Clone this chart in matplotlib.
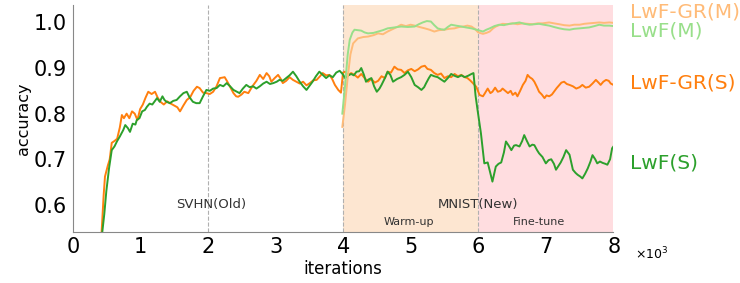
import numpy as np
import matplotlib
matplotlib.use("Agg")
import matplotlib.pyplot as plt
from matplotlib.ticker import ScalarFormatter

gr_s_x = [0.43, 0.46, 0.48, 0.52, 0.55, 0.58, 0.62, 0.66, 0.70, 0.73, 0.76, 0.80, 0.84, 0.88, 0.92, 0.96,
          1.00, 1.04, 1.08, 1.12, 1.17, 1.22, 1.26, 1.30, 1.35, 1.40, 1.44, 1.50, 1.55, 1.59, 1.64, 1.69,
          1.74, 1.79, 1.84, 1.88, 1.93, 1.98, 2.03, 2.08, 2.13, 2.18, 2.22, 2.25, 2.29, 2.33, 2.38, 2.42,
          2.45, 2.50, 2.54, 2.60, 2.64, 2.67, 2.72, 2.77, 2.82, 2.87, 2.91, 2.94, 2.99, 3.04, 3.08, 3.11,
          3.16, 3.21, 3.26, 3.31, 3.36, 3.41, 3.46, 3.51, 3.56, 3.61, 3.66, 3.70, 3.75, 3.80, 3.84, 3.88,
          3.93, 3.97, 4.00, 4.03, 4.08, 4.12, 4.17, 4.22, 4.27, 4.32, 4.37, 4.42, 4.47, 4.52, 4.57, 4.62,
          4.66, 4.71, 4.76, 4.81, 4.86, 4.91, 4.96, 5.01, 5.06, 5.11, 5.16, 5.21, 5.25, 5.30, 5.35, 5.40,
          5.45, 5.50, 5.55, 5.60, 5.65, 5.70, 5.75, 5.80, 5.84, 5.88, 5.92, 5.97, 6.02, 6.07, 6.10, 6.14,
          6.18, 6.21, 6.25, 6.29, 6.33, 6.36, 6.40, 6.44, 6.48, 6.51, 6.55, 6.58, 6.62, 6.66, 6.70, 6.73,
          6.76, 6.80, 6.83, 6.87, 6.90, 6.94, 6.98, 7.01, 7.05, 7.09, 7.12, 7.16, 7.20, 7.23, 7.27, 7.31,
          7.35, 7.40, 7.45, 7.50, 7.54, 7.59, 7.64, 7.69, 7.74, 7.78, 7.81, 7.85, 7.89, 7.93, 7.96, 8.00]
gr_s_y = [0.54, 0.62, 0.662, 0.685, 0.70, 0.736, 0.74, 0.745, 0.77, 0.797, 0.79, 0.80, 0.79, 0.805, 0.80, 0.786,
          0.81, 0.82, 0.835, 0.848, 0.843, 0.848, 0.835, 0.826, 0.82, 0.827, 0.823, 0.818, 0.814, 0.805, 0.818, 0.83,
          0.836, 0.85, 0.859, 0.856, 0.846, 0.845, 0.843, 0.848, 0.86, 0.878, 0.879, 0.88, 0.87, 0.859, 0.845, 0.838,
          0.837, 0.842, 0.848, 0.845, 0.855, 0.862, 0.872, 0.885, 0.876, 0.889, 0.882, 0.87, 0.878, 0.885, 0.876, 0.867,
          0.872, 0.88, 0.874, 0.87, 0.866, 0.87, 0.862, 0.867, 0.873, 0.874, 0.882, 0.889, 0.884, 0.885, 0.876, 0.863,
          0.852, 0.846, 0.89, 0.892, 0.884, 0.889, 0.885, 0.879, 0.887, 0.878, 0.87, 0.876, 0.868, 0.872, 0.882, 0.878,
          0.892, 0.89, 0.903, 0.897, 0.896, 0.889, 0.895, 0.898, 0.893, 0.897, 0.903, 0.905, 0.898, 0.896, 0.889, 0.885,
          0.888, 0.878, 0.882, 0.88, 0.887, 0.882, 0.885, 0.88, 0.878, 0.873, 0.867, 0.859, 0.841, 0.838, 0.845, 0.855,
          0.845, 0.848, 0.857, 0.848, 0.85, 0.855, 0.85, 0.845, 0.85, 0.841, 0.846, 0.838, 0.85, 0.863, 0.872, 0.885,
          0.88, 0.876, 0.87, 0.858, 0.848, 0.842, 0.834, 0.84, 0.838, 0.842, 0.848, 0.856, 0.863, 0.868, 0.87, 0.865,
          0.863, 0.86, 0.855, 0.858, 0.863, 0.857, 0.859, 0.866, 0.874, 0.868, 0.863, 0.87, 0.874, 0.872, 0.866, 0.863]

lwf_s_x = [0.44, 0.47, 0.50, 0.54, 0.58, 0.62, 0.66, 0.70, 0.75, 0.78, 0.82, 0.85, 0.89, 0.93, 0.95, 0.99,
           1.03, 1.07, 1.10, 1.14, 1.18, 1.22, 1.25, 1.29, 1.33, 1.36, 1.39, 1.44, 1.49, 1.54, 1.59, 1.64,
           1.69, 1.73, 1.78, 1.83, 1.88, 1.93, 1.98, 2.03, 2.08, 2.13, 2.18, 2.23, 2.28, 2.33, 2.38, 2.43,
           2.47, 2.52, 2.57, 2.62, 2.67, 2.72, 2.77, 2.82, 2.87, 2.92, 2.97, 3.02, 3.06, 3.11, 3.16, 3.21,
           3.26, 3.31, 3.36, 3.41, 3.46, 3.51, 3.55, 3.60, 3.65, 3.70, 3.75, 3.80, 3.85, 3.90, 3.95, 4.00,
           4.03, 4.08, 4.12, 4.16, 4.20, 4.24, 4.27, 4.31, 4.34, 4.38, 4.42, 4.46, 4.50, 4.54, 4.57, 4.62,
           4.66, 4.70, 4.74, 4.80, 4.86, 4.91, 4.96, 5.01, 5.06, 5.11, 5.16, 5.20, 5.23, 5.27, 5.30, 5.35,
           5.40, 5.45, 5.50, 5.55, 5.60, 5.65, 5.70, 5.75, 5.80, 5.85, 5.90, 5.93, 5.96, 5.99, 6.04, 6.09,
           6.14, 6.17, 6.21, 6.26, 6.30, 6.34, 6.38, 6.41, 6.45, 6.49, 6.53, 6.56, 6.61, 6.65, 6.68, 6.72,
           6.76, 6.80, 6.83, 6.87, 6.90, 6.95, 7.00, 7.04, 7.08, 7.12, 7.15, 7.19, 7.22, 7.26, 7.30, 7.35,
           7.40, 7.44, 7.47, 7.51, 7.54, 7.58, 7.62, 7.66, 7.69, 7.73, 7.76, 7.80, 7.84, 7.88, 7.91, 7.95,
           7.98, 8.00]
lwf_s_y = [0.54, 0.58, 0.63, 0.68, 0.72, 0.728, 0.74, 0.75, 0.764, 0.775, 0.768, 0.76, 0.778, 0.776, 0.786, 0.79,
           0.805, 0.808, 0.815, 0.822, 0.82, 0.828, 0.834, 0.826, 0.838, 0.83, 0.826, 0.823, 0.828, 0.83, 0.838, 0.845,
           0.848, 0.836, 0.826, 0.823, 0.823, 0.838, 0.852, 0.85, 0.855, 0.856, 0.863, 0.86, 0.867, 0.86, 0.852, 0.848,
           0.845, 0.855, 0.863, 0.858, 0.86, 0.855, 0.86, 0.866, 0.87, 0.865, 0.867, 0.87, 0.874, 0.872, 0.878, 0.884,
           0.892, 0.882, 0.87, 0.86, 0.852, 0.862, 0.87, 0.882, 0.892, 0.885, 0.878, 0.884, 0.88, 0.89, 0.894, 0.886,
           0.878, 0.884, 0.887, 0.884, 0.892, 0.893, 0.90, 0.885, 0.87, 0.875, 0.878, 0.86, 0.848, 0.855, 0.863, 0.878,
           0.892, 0.885, 0.87, 0.876, 0.88, 0.885, 0.892, 0.88, 0.863, 0.858, 0.852, 0.858, 0.867, 0.878, 0.885, 0.882,
           0.88, 0.875, 0.87, 0.878, 0.887, 0.883, 0.88, 0.884, 0.88, 0.883, 0.887, 0.889, 0.84, 0.808, 0.757, 0.691,
           0.693, 0.675, 0.651, 0.684, 0.69, 0.693, 0.715, 0.739, 0.73, 0.72, 0.73, 0.731, 0.728, 0.74, 0.753, 0.74,
           0.728, 0.732, 0.731, 0.72, 0.713, 0.705, 0.691, 0.698, 0.70, 0.69, 0.677, 0.686, 0.693, 0.705, 0.72, 0.71,
           0.677, 0.67, 0.666, 0.662, 0.658, 0.668, 0.68, 0.695, 0.709, 0.70, 0.691, 0.695, 0.692, 0.69, 0.688, 0.70,
           0.724, 0.728]

gr_m_x = [3.99, 4.03, 4.07, 4.11, 4.15, 4.22, 4.30, 4.37, 4.45, 4.52, 4.59, 4.66, 4.73, 4.80, 4.86, 4.93,
          5.00, 5.06, 5.13, 5.21, 5.28, 5.35, 5.42, 5.50, 5.57, 5.65, 5.72, 5.78, 5.84, 5.90, 5.95, 6.00,
          6.07, 6.12, 6.17, 6.22, 6.26, 6.31, 6.36, 6.44, 6.51, 6.58, 6.66, 6.73, 6.80, 6.88, 6.95, 7.00,
          7.05, 7.12, 7.20, 7.27, 7.35, 7.42, 7.50, 7.57, 7.64, 7.72, 7.79, 7.86, 7.94, 8.00]
gr_m_y = [0.771, 0.82, 0.88, 0.93, 0.954, 0.965, 0.968, 0.969, 0.972, 0.976, 0.974, 0.98, 0.985, 0.99, 0.995, 0.992,
          0.995, 0.993, 0.99, 0.987, 0.984, 0.98, 0.983, 0.984, 0.986, 0.987, 0.99, 0.991, 0.993, 0.991, 0.986, 0.978,
          0.975, 0.977, 0.98, 0.987, 0.991, 0.994, 0.997, 0.996, 0.998, 0.996, 0.998, 0.997, 0.996, 0.998, 0.998, 0.999,
          1.0, 0.998, 0.996, 0.994, 0.993, 0.995, 0.995, 0.997, 0.998, 0.999, 1.0, 0.999, 1.0, 0.999]

lwf_m_x = [3.99, 4.03, 4.07, 4.10, 4.14, 4.17, 4.22, 4.27, 4.32, 4.37, 4.45, 4.52, 4.59, 4.66, 4.76, 4.86,
           4.96, 5.06, 5.12, 5.18, 5.24, 5.30, 5.35, 5.40, 5.45, 5.50, 5.55, 5.60, 5.67, 5.75, 5.82, 5.90,
           5.95, 6.00, 6.07, 6.12, 6.17, 6.24, 6.31, 6.38, 6.46, 6.53, 6.61, 6.68, 6.76, 6.83, 6.90, 6.97,
           7.05, 7.12, 7.20, 7.27, 7.35, 7.42, 7.50, 7.57, 7.64, 7.72, 7.79, 7.86, 7.94, 8.00]
lwf_m_y = [0.80, 0.86, 0.93, 0.962, 0.978, 0.984, 0.983, 0.982, 0.978, 0.976, 0.977, 0.98, 0.983, 0.987, 0.989, 0.991,
           0.99, 0.991, 0.996, 1.0, 1.003, 1.002, 0.994, 0.987, 0.985, 0.984, 0.99, 0.995, 0.993, 0.991, 0.989, 0.987,
           0.985, 0.983, 0.98, 0.984, 0.987, 0.992, 0.995, 0.994, 0.997, 0.998, 1.0, 0.997, 0.995, 0.996, 0.997, 0.995,
           0.993, 0.99, 0.987, 0.985, 0.984, 0.986, 0.987, 0.988, 0.989, 0.992, 0.995, 0.993, 0.993, 0.992]

names = ["LwF-GR(M)", "LwF(M)", "LwF-GR(S)", "LwF(S)"]
colors = ["#ffbb78", "#98df8a", "#ff7f0e", "#2ca02c"]
name_y = [1.023, 0.981, 0.867, 0.692]

fig = plt.figure(figsize=(7.4, 2.83), dpi=100)
ax = fig.add_axes([0.098, 0.181, 0.731, 0.801])

# phase shading and separators
ax.axvspan(4000, 6000, color="#fde6d1", lw=0, zorder=0)
ax.axvspan(6000, 8000, color="#ffdde0", lw=0, zorder=0)
for v in [2000, 4000, 6000]:
    ax.axvline(v, color="#b0b0b0", ls="--", lw=0.8, zorder=1)

ax.plot(np.array(gr_s_x) * 1000, gr_s_y, color=colors[2], lw=1.4)
ax.plot(np.array(lwf_s_x) * 1000, lwf_s_y, color=colors[3], lw=1.4)
ax.plot(np.array(gr_m_x) * 1000, gr_m_y, color=colors[0], lw=1.4)
ax.plot(np.array(lwf_m_x) * 1000, lwf_m_y, color=colors[1], lw=1.4)

for n, c, yv in zip(names, colors, name_y):
    ax.text(8250, yv, n, color=c, fontsize=14.5, va="center", ha="left", clip_on=False)

ax.text(2050, 0.6, "SVHN(Old)", fontsize=9.5, color="#333333", ha="center", va="center")
ax.text(6000, 0.6, "MNIST(New)", fontsize=9.5, color="#333333", ha="center", va="center")
ax.text(4970, 0.563, "Warm-up", fontsize=8, color="#333333", ha="center", va="center")
ax.text(6900, 0.563, "Fine-tune", fontsize=8, color="#333333", ha="center", va="center")

ax.set_xlim(0, 8000)
ax.set_ylim(0.541, 1.038)
ax.set_yticks([0.6, 0.7, 0.8, 0.9, 1.0])
ax.set_xticks(np.arange(0, 8001, 1000))
fmt = ScalarFormatter(useMathText=True)
fmt.set_powerlimits((0, 0))
ax.xaxis.set_major_formatter(fmt)
# the x10^3 multiplier sits beside the last tick label
ax.xaxis.get_offset_text().set_visible(False)
ax.text(1.04, -0.1, r"$\times\mathregular{10^{3}}$", transform=ax.transAxes, fontsize=9,
        ha="left", va="center")
ax.tick_params(length=0, labelsize=15, pad=4)
for s in ["top", "right"]:
    ax.spines[s].set_visible(False)
for s in ["left", "bottom"]:
    ax.spines[s].set_color("#888888")
ax.set_xlabel("iterations", fontsize=12, labelpad=2)
ax.set_ylabel("accuracy", fontsize=11.5, labelpad=2)

fig.savefig("out.png", dpi=100)
